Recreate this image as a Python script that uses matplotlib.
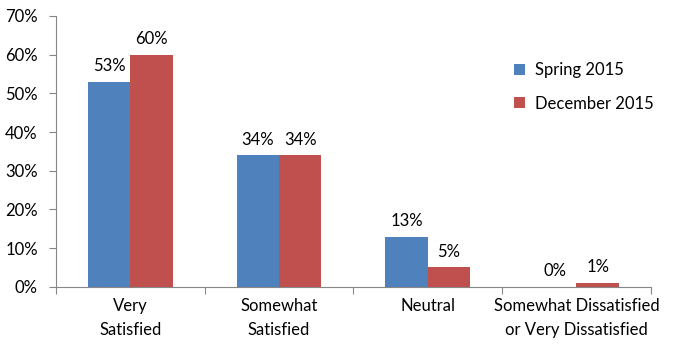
import numpy as np
import matplotlib
matplotlib.use("Agg")
import matplotlib.pyplot as plt
from matplotlib.ticker import PercentFormatter

categories = ["Very\nSatisfied", "Somewhat\nSatisfied", "Neutral",
              "Somewhat Dissatisfied\nor Very Dissatisfied"]
spring_2015 = [53, 34, 13, 0]
december_2015 = [60, 34, 5, 1]
series_names = ["Spring 2015", "December 2015"]

plt.rcParams['font.family'] = ['Lato', 'DejaVu Sans']
plt.rcParams['font.size'] = 12

fig = plt.figure(figsize=(6.73, 3.55), dpi=100)
ax = fig.add_axes([0.083, 0.192, 0.884, 0.763])

x = np.arange(len(categories))
w = 0.285
colors = ['#4F81BD', '#C0504D']
b1 = ax.bar(x - w / 2, spring_2015, w, color=colors[0], label=series_names[0])
b2 = ax.bar(x + w / 2, december_2015, w, color=colors[1], label=series_names[1])

for bars, vals in ((b1, spring_2015), (b2, december_2015)):
    for bar, v in zip(bars, vals):
        ax.text(bar.get_x() + bar.get_width() / 2, v + 2, f"{v}%",
                ha='center', va='bottom', fontsize=12)

ax.set_xlim(-0.5, len(categories) - 0.5)
ax.set_ylim(0, 70)
ax.set_yticks(range(0, 71, 10))
ax.yaxis.set_major_formatter(PercentFormatter(decimals=0))

# category labels between boundary ticks
ax.set_xticks(np.arange(-0.5, len(categories), 1))
ax.set_xticklabels([])
ax.set_xticks(x, minor=True)
ax.set_xticklabels(categories, minor=True, linespacing=1.6)
ax.tick_params(axis='x', which='minor', length=0, pad=8)
ax.tick_params(axis='x', which='major', length=5, color='#868686')
ax.tick_params(axis='y', length=5, color='#868686', pad=8)

for s in ('top', 'right'):
    ax.spines[s].set_visible(False)
for s in ('left', 'bottom'):
    ax.spines[s].set_color('#868686')

ax.legend(loc='upper left', bbox_to_anchor=(0.745, 0.885), frameon=False,
          handlelength=0.65, handleheight=0.65, handletextpad=0.6,
          labelspacing=1.05, fontsize=12)

fig.savefig("out.png", dpi=100)
